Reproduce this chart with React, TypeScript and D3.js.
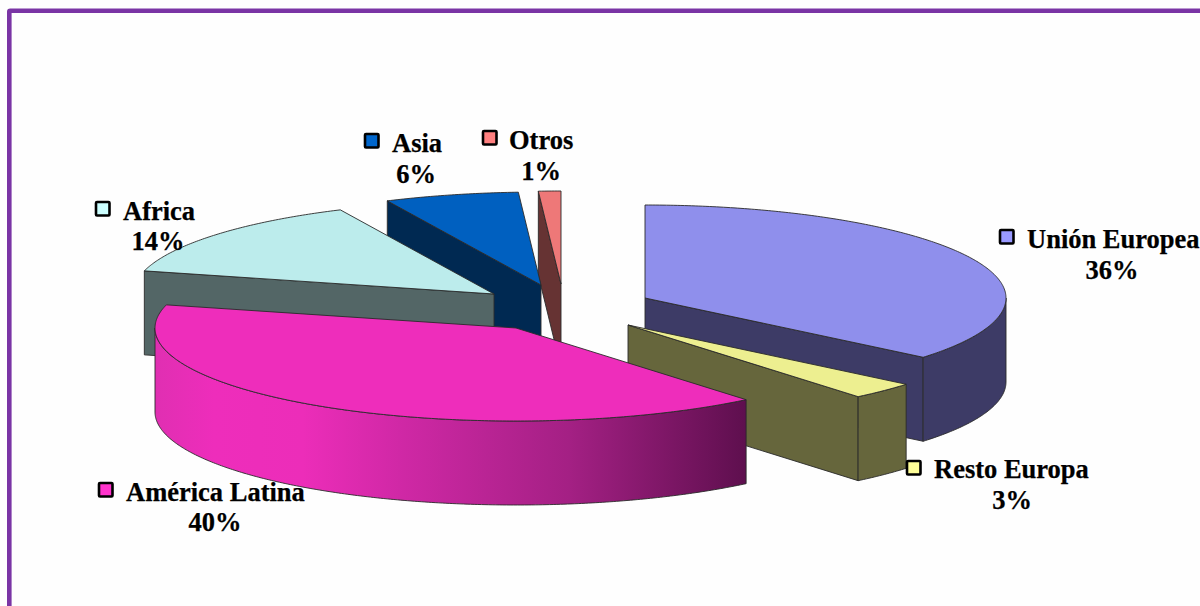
import React from "react";
import * as d3 from "d3";

// ---- data ----
const categories = ["Unión Europea", "Resto Europa", "América Latina", "Africa", "Asia", "Otros"];
const shares = [36, 3, 40, 14, 6, 1];
const percentLabels = ["36%", "3%", "40%", "14%", "6%", "1%"];

// ---- styles ----
const topColors = ["#8F8FEC", "#EDEF90", "#EE2DBB", "#BCECEC", "#0060C0", "#EE7878"];
const wallColors = ["#3D3B66", "#66663C", "url(#alWall)", "#536666", "#002952", "#663333"];
const keyColors = ["#9999FF", "#FFFF99", "#FF33CC", "#CCFFFF", "#0066CC", "#FF8080"];

// ---- layout ----
const W = 1200, H = 606;
const RX = 361, RY = 93, DEPTH = 84;
// exploded centre of each slice
const centres: [number, number][] = [[645, 298], [628, 325], [516, 328], [494, 294], [541, 285], [561, 284]];
// legend key [x,y], name [x,baseline], percentage [centre x,baseline]
const keyPos: [number, number][] = [[1000, 230], [907, 461], [99, 483], [96, 202], [365, 134], [483, 131]];
const namePos: [number, number][] = [[1027, 248], [934, 478], [126, 501], [123, 220], [392, 152], [509, 149]];
const pctPos: [number, number][] = [[1112, 279], [1012, 509], [215, 531], [158, 250], [416, 183], [541, 180]];
const paintOrder = [0, 5, 4, 3, 1, 2];
const FONT = "'Liberation Serif', 'Times New Roman', serif";

const pie = d3.pie<number>().sort(null).startAngle(0).endAngle(2 * Math.PI);
const slices = pie(shares);

const sx = d3.scaleLinear().domain([-1, 1]).range([-RX, RX]);
const sy = d3.scaleLinear().domain([-1, 1]).range([RY, -RY]);
const line = d3.line<[number, number]>().x(d => d[0]).y(d => d[1]);

function rim(i: number, a0: number, a1: number): [number, number][] {
  const [cx, cy] = centres[i];
  const n = Math.max(2, Math.ceil(Math.abs(a1 - a0) / 0.01));
  return d3.range(n + 1).map(k => {
    const a = a0 + ((a1 - a0) * k) / n;
    return [cx + sx(Math.sin(a)), cy + sy(Math.cos(a))] as [number, number];
  });
}
const drop = (pts: [number, number][]) => pts.map(p => [p[0], p[1] + DEPTH] as [number, number]);

function topPath(i: number) {
  const s = slices[i];
  return line([centres[i], ...rim(i, s.startAngle, s.endAngle)]) + "Z";
}
function cutPath(i: number, a: number) {
  const e = rim(i, a, a)[0];
  const pts: [number, number][] = [centres[i], e];
  return line([...pts, ...drop([e, centres[i]])]) + "Z";
}
function wallPaths(i: number) {
  const s = slices[i];
  const a0 = Math.max(s.startAngle, Math.PI / 2);
  const a1 = Math.min(s.endAngle, (3 * Math.PI) / 2);
  if (a1 <= a0) return null;
  const r = rim(i, a0, a1);
  return line([...r, ...drop(r).reverse()]) + "Z";
}

const strokeProps = { stroke: "#2a2a2a", strokeWidth: 0.9, strokeLinejoin: "round" as const };

export default function App() {
  return (
    <svg
      width={W}
      height={H}
      viewBox={`0 0 ${W} ${H}`}
      style={{ position: "absolute", left: 0, top: 0, display: "block", background: "#fefefe" }}
    >
      <defs>
        <linearGradient id="alWall" gradientUnits="userSpaceOnUse" x1={155} x2={746} y1={0} y2={0}>
          <stop offset="0" stopColor="#E02FB2" />
          <stop offset="0.1" stopColor="#EE2DBB" />
          <stop offset="0.25" stopColor="#EC2DB9" />
          <stop offset="0.42" stopColor="#CF28A5" />
          <stop offset="0.7" stopColor="#A42084" />
          <stop offset="1" stopColor="#5E0F4E" />
        </linearGradient>
      </defs>

      <rect x={9.3} y={10.8} width={1300} height={800} fill="none" stroke="#7A35A5" strokeWidth={4.6} rx={1} />

      {paintOrder.map(i => {
        const s = slices[i];
        const startVisible = Math.sin(s.startAngle) < -1e-6;
        const endVisible = Math.sin(s.endAngle) > 1e-6;
        const wall = wallPaths(i);
        return (
          <g key={categories[i]} {...strokeProps}>
            {startVisible && <path d={cutPath(i, s.startAngle)} fill={wallColors[i]} />}
            {endVisible && <path d={cutPath(i, s.endAngle)} fill={wallColors[i]} />}
            {wall && <path d={wall} fill={wallColors[i]} />}
            <path d={topPath(i)} fill={topColors[i]} />
          </g>
        );
      })}

      {categories.map((c, i) => (
        <g key={c} fontFamily={FONT} fontWeight="bold" fontSize={26.5} fill="#000" stroke="#000" strokeWidth={0.25}>
          <rect x={keyPos[i][0]} y={keyPos[i][1]} width={13.5} height={13.5} fill={keyColors[i]} stroke="#000" strokeWidth={2.6} rx={1} />
          <text x={namePos[i][0]} y={namePos[i][1]}>{c}</text>
          <text x={pctPos[i][0]} y={pctPos[i][1]} textAnchor="middle">{percentLabels[i]}</text>
        </g>
      ))}
    </svg>
  );
}
